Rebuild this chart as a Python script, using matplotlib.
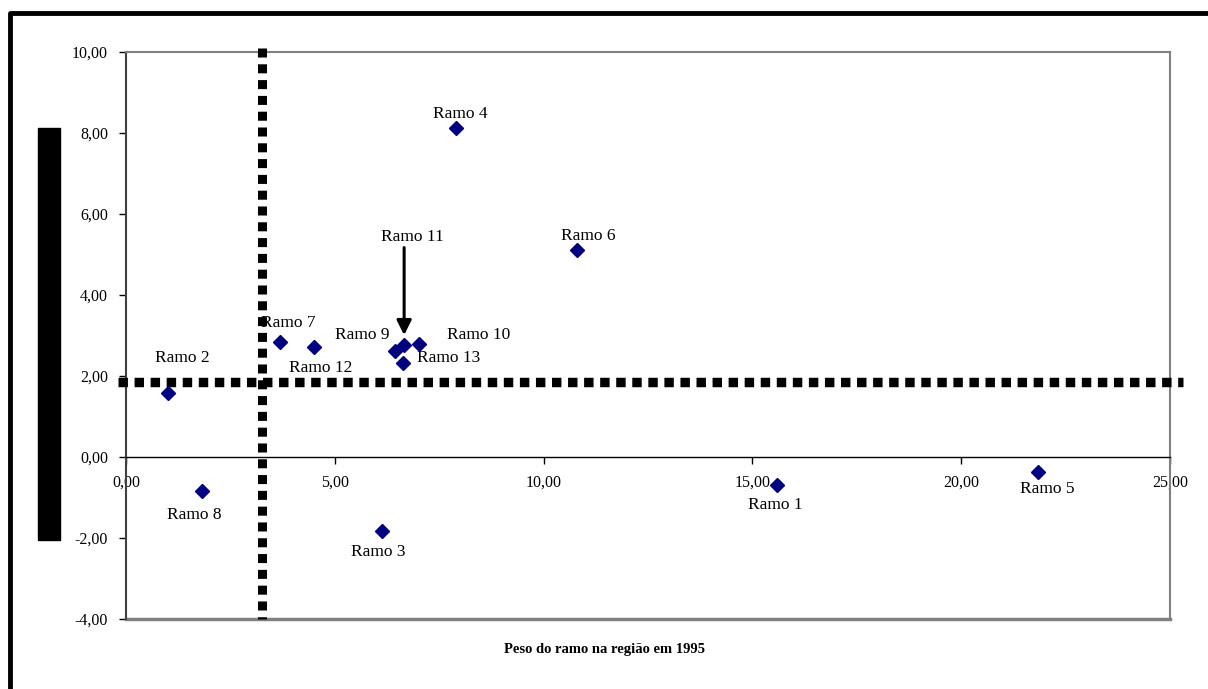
import numpy as np
import matplotlib
matplotlib.use("Agg")
import matplotlib.pyplot as plt
from matplotlib.patches import Rectangle
from matplotlib.lines import Line2D

# ==========================================
# 1. Dados
# ==========================================
RAMOS = ["Ramo 1", "Ramo 2", "Ramo 3", "Ramo 4", "Ramo 5", "Ramo 6", "Ramo 7",
         "Ramo 8", "Ramo 9", "Ramo 10", "Ramo 11", "Ramo 12", "Ramo 13"]

PESO_1995 = [15.60, 1.00, 6.13, 7.90, 21.85, 10.80, 3.69,
             1.82, 6.44, 7.02, 6.66, 4.50, 6.64]

CRESCIMENTO = [-0.69, 1.58, -1.83, 8.12, -0.37, 5.11, 2.84,
               -0.84, 2.62, 2.79, 2.77, 2.72, 2.32]

X_TICKS = [0, 5, 10, 15, 20, 25]
Y_TICKS = [-4, -2, 0, 2, 4, 6, 8, 10]

# linhas médias (separação dos quadrantes)
MEDIA_X = 3.26
MEDIA_Y = 1.85

X_LABEL = "Peso do ramo na região em 1995"

# deslocamento dos rótulos (pixels) em relação ao ponto
OFFSETS = [(-2, -20), (15, 35), (-4, -21), (4, 14), (9, -17), (11, 14), (8, 19),
           (-8, -24), (-33, 16), (59, 9), (8, 108), (7, -21), (45, 5)]

SERIF = "Liberation Serif"

# ==========================================
# 2. Figura
# ==========================================
fig = plt.figure(figsize=(12.08, 6.89), dpi=100)
ax = fig.add_axes([126 / 1208, 1 - 619 / 689, (1170 - 126) / 1208, (619 - 52) / 689])

ax.set_xlim(0, 25)
ax.set_ylim(-4, 10)

# pontos
ax.plot(PESO_1995, CRESCIMENTO, linestyle="none", marker="D", markersize=7.5,
        color="#000080", zorder=5)

# rótulos
for nome, x, y, off in zip(RAMOS, PESO_1995, CRESCIMENTO, OFFSETS):
    ax.annotate(nome, (x, y), xytext=(off[0] * 0.72, off[1] * 0.72),
                textcoords="offset points", ha="center", va="center",
                family=SERIF, fontsize=12.5, zorder=6)

# seta do Ramo 11
i11 = RAMOS.index("Ramo 11")
ax.annotate("", xy=(PESO_1995[i11], CRESCIMENTO[i11]), xytext=(0, 70),
            textcoords="offset points",
            arrowprops=dict(arrowstyle="-|>", color="black", lw=2.2,
                            mutation_scale=22, shrinkA=0, shrinkB=7))

# linhas pontilhadas dos quadrantes
ax.plot([-0.19, 25.32], [MEDIA_Y, MEDIA_Y], color="black", lw=6.8,
        linestyle=(0, (1.0, 0.7)), clip_on=False, zorder=3)
ax.plot([MEDIA_X, MEDIA_X], [10.1, -4], color="black", lw=6.5,
        linestyle=(0, (1.0, 0.75)), clip_on=False, zorder=3)

# ==========================================
# 3. Eixos e estilo
# ==========================================
for lado in ["top", "right", "left"]:
    ax.spines[lado].set_color("#808080")
    ax.spines[lado].set_linewidth(1.5)
ax.spines["left"].set_color("#404040")
ax.spines["bottom"].set_position(("data", 0))
ax.spines["bottom"].set_color("black")
ax.spines["bottom"].set_linewidth(1.0)
ax.axhline(-4, color="#808080", lw=2.5, clip_on=False, zorder=2)

def virgula(v):
    return f"{v:.2f}".replace(".", ",")

ax.set_xticks(X_TICKS)
ax.set_xticklabels([virgula(v) for v in X_TICKS], family=SERIF, fontsize=11.5)
ax.set_yticks(Y_TICKS)
ax.set_yticklabels([virgula(v) for v in Y_TICKS], family=SERIF, fontsize=11.5)
ax.tick_params(axis="x", direction="out", length=5, width=1, pad=8)
ax.tick_params(axis="y", direction="out", length=5, width=1, pad=8)

fig.text(604 / 1208, 1 - 650 / 689, X_LABEL, ha="center", va="center",
         family=SERIF, fontsize=10.5, fontweight="bold")

# barra preta do rótulo vertical
fig.patches.append(Rectangle((38 / 1208, 1 - 540 / 689), 22 / 1208, 412 / 689,
                             transform=fig.transFigure, color="black"))

# moldura da figura
fig.lines.append(Line2D([10 / 1208, 10 / 1208, 1], [0, 1 - 12.5 / 689, 1 - 12.5 / 689],
                        transform=fig.transFigure, color="black", lw=3.5))

fig.savefig("out.png", dpi=100)
